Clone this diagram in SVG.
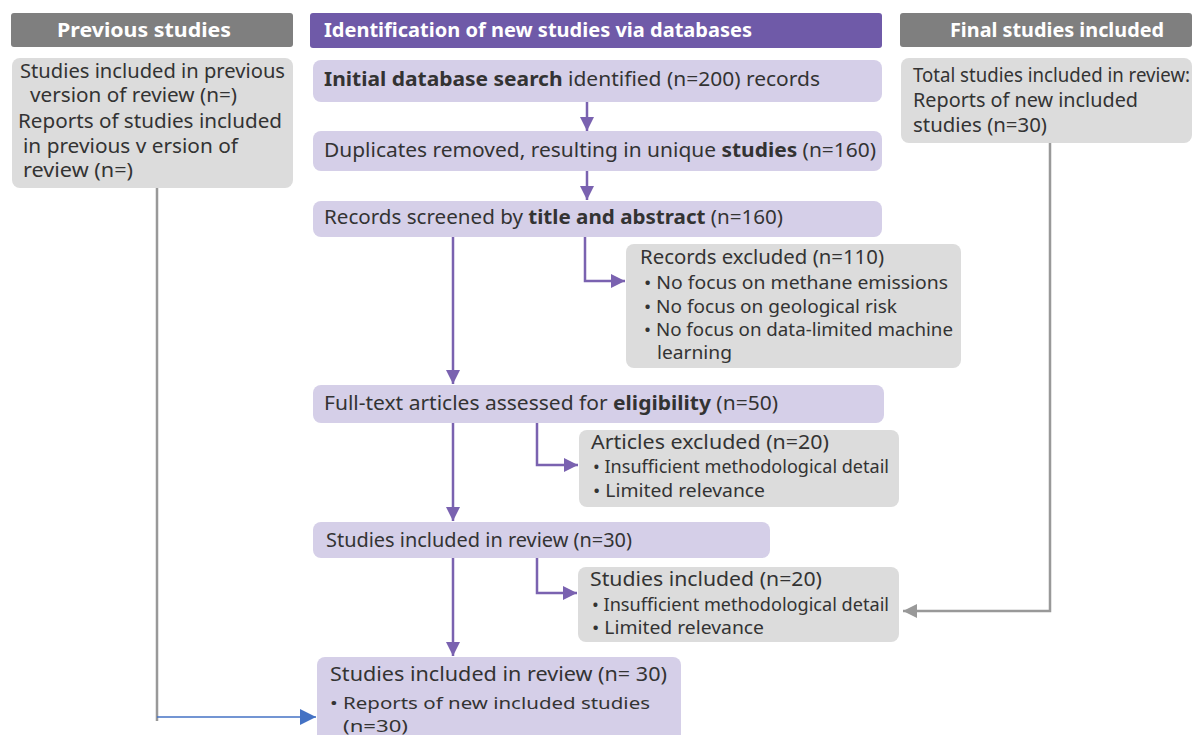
<svg xmlns="http://www.w3.org/2000/svg" width="1197" height="735" viewBox="0 0 1197 735">
<style>
text{font-family:"Noto Sans","Open Sans","DejaVu Sans",sans-serif;fill:#333;font-size:20px}
.hd{fill:#fff;font-weight:bold;font-size:20px}
.b{font-weight:bold}
.ghd{fill:#7f7f7f}
.phd{fill:#6f5aa8}
.gbox{fill:#dcdcdc}
.pbox{fill:#d5cfe8}
.pl{stroke:#7a62b0;stroke-width:2.5;fill:none}
.gl{stroke:#999;stroke-width:2.5;fill:none}
.bl{stroke:#4472c4;stroke-width:1.5;fill:none}
.sm{font-size:18.5px}
.md{font-size:19px}
.xs{font-size:16.5px}
</style>
<defs>
<marker id="ap" markerUnits="userSpaceOnUse" markerWidth="16" markerHeight="16" refX="14" refY="8" orient="auto"><path d="M0,1 L14,8 L0,15 Z" fill="#7a62b0"/></marker>
<marker id="ag" markerUnits="userSpaceOnUse" markerWidth="16" markerHeight="16" refX="14" refY="8" orient="auto"><path d="M0,1 L14,8 L0,15 Z" fill="#999"/></marker>
<marker id="ab" markerUnits="userSpaceOnUse" markerWidth="18" markerHeight="18" refX="16" refY="9" orient="auto"><path d="M0,1 L16,9 L0,17 Z" fill="#4472c4"/></marker>
</defs>
<rect width="1197" height="735" fill="#fff"/>
<g id="hdr-prev"><rect class="ghd" x="11" y="13" width="282" height="34" rx="3"/><text class="hd" x="57" y="37" textLength="174" lengthAdjust="spacingAndGlyphs">Previous studies</text></g>
<g id="hdr-new"><rect class="phd" x="310" y="13" width="572" height="35" rx="3"/><text class="hd" x="324" y="37" textLength="428" lengthAdjust="spacingAndGlyphs">Identification of new studies via databases</text></g>
<g id="hdr-final"><rect class="ghd" x="900" y="13" width="292" height="34" rx="3"/><text class="hd" x="950" y="37" textLength="214" lengthAdjust="spacingAndGlyphs">Final studies included</text></g>
<g id="prev-box"><rect class="gbox" x="12" y="58" width="281" height="130" rx="8"/>
<text class="md" x="20" y="78" textLength="265" lengthAdjust="spacingAndGlyphs">Studies included in previous</text>
<text class="md" x="30" y="102" textLength="207" lengthAdjust="spacingAndGlyphs">version of review (n=)</text>
<text class="md" x="18" y="128" textLength="264" lengthAdjust="spacingAndGlyphs">Reports of studies included</text>
<text class="md" x="23" y="153" textLength="215" lengthAdjust="spacingAndGlyphs">in previous v ersion of</text>
<text class="md" x="23" y="177" textLength="110" lengthAdjust="spacingAndGlyphs">review (n=)</text></g>
<g id="final-box"><rect class="gbox" x="901" y="58" width="291" height="85" rx="8"/>
<text class="md" x="913" y="82" textLength="277" lengthAdjust="spacingAndGlyphs">Total studies included in review:</text>
<text class="md" x="913" y="107" textLength="225" lengthAdjust="spacingAndGlyphs">Reports of new included</text>
<text class="md" x="913" y="132" textLength="134" lengthAdjust="spacingAndGlyphs">studies (n=30)</text></g>
<g id="n1"><rect class="pbox" x="313" y="60" width="569" height="42" rx="8"/><text x="324" y="86" textLength="496" lengthAdjust="spacingAndGlyphs"><tspan class="b">Initial database search</tspan> identified (n=200) records</text></g>
<g id="n2"><rect class="pbox" x="313" y="131" width="569" height="40" rx="8"/><text x="324" y="157" textLength="552" lengthAdjust="spacingAndGlyphs">Duplicates removed, resulting in unique <tspan class="b">studies</tspan> (n=160)</text></g>
<g id="n3"><rect class="pbox" x="313" y="201" width="569" height="36" rx="8"/><text x="324" y="224" textLength="459" lengthAdjust="spacingAndGlyphs">Records screened by <tspan class="b">title and abstract</tspan> (n=160)</text></g>
<g id="ex1"><rect class="gbox" x="626" y="244" width="335" height="124" rx="8"/>
<text x="640" y="264" textLength="244" lengthAdjust="spacingAndGlyphs">Records excluded (n=110)</text>
<text class="sm" x="644" y="289" textLength="304" lengthAdjust="spacingAndGlyphs">• No focus on methane emissions</text>
<text class="sm" x="644" y="313" textLength="253" lengthAdjust="spacingAndGlyphs">• No focus on geological risk</text>
<text class="sm" x="644" y="336" textLength="309" lengthAdjust="spacingAndGlyphs">• No focus on data-limited machine</text>
<text class="sm" x="657" y="359" textLength="75" lengthAdjust="spacingAndGlyphs">learning</text></g>
<g id="n4"><rect class="pbox" x="313" y="385" width="571" height="38" rx="8"/><text x="324" y="410" textLength="454" lengthAdjust="spacingAndGlyphs">Full-text articles assessed for <tspan class="b">eligibility</tspan> (n=50)</text></g>
<g id="ex2"><rect class="gbox" x="579" y="430" width="320" height="77" rx="8"/>
<text x="591" y="449" textLength="238" lengthAdjust="spacingAndGlyphs">Articles excluded (n=20)</text>
<text class="sm" x="593" y="473" textLength="296" lengthAdjust="spacingAndGlyphs">• Insufficient methodological detail</text>
<text class="sm" x="593" y="497" textLength="172" lengthAdjust="spacingAndGlyphs">• Limited relevance</text></g>
<g id="n5"><rect class="pbox" x="313" y="522" width="457" height="36" rx="8"/><text x="326" y="547" textLength="306" lengthAdjust="spacingAndGlyphs">Studies included in review (n=30)</text></g>
<g id="inc"><rect class="gbox" x="578" y="567" width="321" height="75" rx="8"/>
<text x="590" y="586" textLength="232" lengthAdjust="spacingAndGlyphs">Studies included (n=20)</text>
<text class="sm" x="592" y="611" textLength="297" lengthAdjust="spacingAndGlyphs">• Insufficient methodological detail</text>
<text class="sm" x="592" y="634" textLength="172" lengthAdjust="spacingAndGlyphs">• Limited relevance</text></g>
<g id="n6"><rect class="pbox" x="317" y="657" width="364" height="90" rx="8"/>
<text x="330" y="681" textLength="337" lengthAdjust="spacingAndGlyphs">Studies included in review (n= 30)</text>
<text class="xs" x="330" y="709" textLength="320" lengthAdjust="spacingAndGlyphs">• Reports of new included studies</text>
<text class="xs" x="343" y="732" textLength="65" lengthAdjust="spacingAndGlyphs">(n=30)</text></g>
<g id="connectors">
<line class="pl" x1="587" y1="102" x2="587" y2="131" marker-end="url(#ap)"/>
<line class="pl" x1="587" y1="171" x2="587" y2="200" marker-end="url(#ap)"/>
<line class="pl" x1="453" y1="237" x2="453" y2="384" marker-end="url(#ap)"/>
<polyline class="pl" points="585,237 585,281 625,281" marker-end="url(#ap)"/>
<line class="pl" x1="453" y1="423" x2="453" y2="521" marker-end="url(#ap)"/>
<polyline class="pl" points="537,423 537,465 578,465" marker-end="url(#ap)"/>
<line class="pl" x1="453" y1="558" x2="453" y2="656" marker-end="url(#ap)"/>
<polyline class="pl" points="537,558 537,593 577,593" marker-end="url(#ap)"/>
<polyline class="gl" points="1050,143 1050,611 903,611" marker-end="url(#ag)"/>
<line class="gl" x1="157" y1="188" x2="157" y2="721"/>
<line class="bl" x1="157" y1="717" x2="316" y2="717" marker-end="url(#ab)"/>
</g>
</svg>
